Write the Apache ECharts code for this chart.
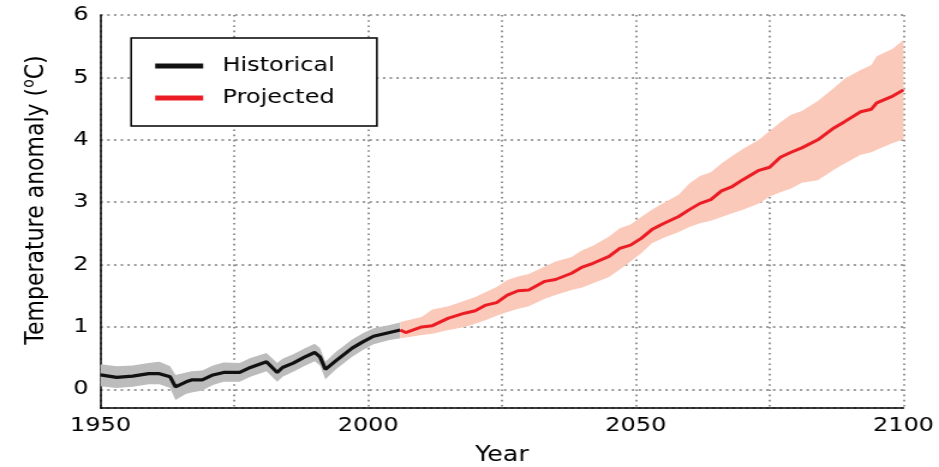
<!DOCTYPE html>
<html>
<head>
<meta charset="utf-8">
<script src="https://cdn.jsdelivr.net/npm/echarts@6/dist/echarts.min.js"></script>
<style>
html, body { margin: 0; padding: 0; background: #fff; overflow: hidden; }
#wrap { width: 939px; height: 467px; overflow: hidden; }
#chart { width: 782px; height: 467px; transform: scaleX(1.2008); transform-origin: 0 0; }
</style>
</head>
<body>
<div id="wrap"><div id="chart"></div></div>
<script>
// ---- data ----
const histYears = [1950, 1953, 1956, 1959, 1961, 1963, 1964, 1966, 1967, 1969, 1971, 1973, 1976, 1978, 1981, 1983, 1984, 1986, 1988, 1990, 1991, 1992, 1994, 1997, 1999, 2001, 2004, 2006];
const histMid  = [0.23, 0.19, 0.21, 0.25, 0.25, 0.20, 0.04, 0.12, 0.15, 0.15, 0.23, 0.27, 0.27, 0.35, 0.44, 0.27, 0.35, 0.42, 0.51, 0.59, 0.52, 0.32, 0.46, 0.66, 0.76, 0.85, 0.91, 0.95];
const histLow  = [0.05, 0.02, 0.04, 0.08, 0.08, 0.02, -0.17, -0.07, -0.05, -0.02, 0.07, 0.12, 0.12, 0.20, 0.29, 0.12, 0.20, 0.28, 0.37, 0.45, 0.38, 0.16, 0.32, 0.52, 0.63, 0.72, 0.79, 0.82];
const histHigh = [0.40, 0.37, 0.38, 0.42, 0.44, 0.37, 0.23, 0.27, 0.29, 0.30, 0.38, 0.43, 0.42, 0.50, 0.58, 0.42, 0.49, 0.56, 0.65, 0.73, 0.66, 0.44, 0.60, 0.80, 0.90, 0.98, 1.03, 1.07];

const projYears = [2006, 2007, 2010, 2012, 2015, 2018, 2020, 2022, 2024, 2026, 2028, 2030, 2033, 2035, 2038, 2040, 2042, 2045, 2047, 2049, 2051, 2053, 2055, 2058, 2060, 2062, 2064, 2066, 2068, 2070, 2073, 2075, 2077, 2079, 2081, 2084, 2087, 2089, 2092, 2094, 2095, 2098, 2100];
const projMid  = [0.95, 0.91, 1.00, 1.02, 1.14, 1.22, 1.26, 1.35, 1.39, 1.51, 1.58, 1.59, 1.73, 1.76, 1.86, 1.96, 2.02, 2.13, 2.26, 2.31, 2.42, 2.56, 2.65, 2.77, 2.88, 2.98, 3.04, 3.18, 3.25, 3.36, 3.51, 3.56, 3.72, 3.80, 3.87, 4.00, 4.19, 4.29, 4.45, 4.49, 4.59, 4.70, 4.80];
const projHigh = [1.08, 1.10, 1.16, 1.28, 1.33, 1.42, 1.48, 1.56, 1.64, 1.75, 1.81, 1.85, 1.97, 2.05, 2.12, 2.23, 2.30, 2.45, 2.58, 2.64, 2.76, 2.88, 2.98, 3.12, 3.30, 3.42, 3.48, 3.62, 3.74, 3.85, 4.00, 4.14, 4.28, 4.40, 4.46, 4.62, 4.83, 4.98, 5.12, 5.20, 5.34, 5.46, 5.60];
const projLow  = [0.82, 0.83, 0.87, 0.89, 0.95, 1.00, 1.05, 1.11, 1.18, 1.24, 1.29, 1.33, 1.45, 1.51, 1.59, 1.63, 1.70, 1.80, 1.92, 2.05, 2.18, 2.34, 2.42, 2.52, 2.60, 2.66, 2.70, 2.76, 2.82, 2.88, 2.98, 3.09, 3.16, 3.22, 3.31, 3.35, 3.52, 3.62, 3.76, 3.80, 3.84, 3.95, 4.01];

const xLabels = [1950, 2000, 2050, 2100];
const legendNames = ['Historical', 'Projected'];

// ---- build chart ----
const FONT = 'DejaVu Sans';
const pairs = (xs, ys) => xs.map((x, i) => [x, ys[i]]);
const bandData = (xs, lo, hi) => xs.map((x, i) => [x, lo[i], hi[i]]);

function makeBand(name, xs, lo, hi, color) {
  return {
    name: name,
    type: 'custom',
    silent: true,
    z: 1,
    data: bandData(xs, lo, hi),
    encode: { x: 0, y: [1, 2] },
    renderItem: function (params, api) {
      if (params.dataIndex !== 0) return null;
      const top = [], bot = [];
      for (let i = 0; i < xs.length; i++) {
        top.push(api.coord([xs[i], hi[i]]));
        bot.push(api.coord([xs[i], lo[i]]));
      }
      return {
        type: 'polygon',
        shape: { points: top.concat(bot.reverse()) },
        style: { fill: color, stroke: null }
      };
    }
  };
}

const chart = echarts.init(document.getElementById('chart'), null, { renderer: 'canvas' });
chart.setOption({
  animation: false,
  backgroundColor: '#ffffff',
  grid: { left: 83.7, right: 29.6, top: 15, bottom: 59, containLabel: false, outerBoundsMode: 'none' },
  legend: {
    data: legendNames,
    orient: 'vertical',
    left: 109.2,
    top: 38,
    padding: [17, 35, 17, 20],
    itemGap: 10,
    itemWidth: 40,
    itemHeight: 5,
    icon: 'rect',
    borderColor: '#000',
    borderWidth: 1.5,
    borderRadius: 0,
    backgroundColor: '#fff',
    textStyle: { fontFamily: FONT, fontSize: 20, color: '#000', lineHeight: 22, padding: [0, 0, 0, 11] }
  },
  xAxis: {
    type: 'value',
    min: 1950, max: 2100, interval: 25,
    name: 'Year', nameLocation: 'middle', nameGap: 37,
    nameTextStyle: { fontFamily: FONT, fontSize: 21, color: '#000' },
    axisLine: { onZero: false, lineStyle: { color: '#000', width: 1.5 } },
    axisTick: { show: false },
    axisLabel: {
      fontFamily: FONT, fontSize: 20, color: '#000', margin: 8,
      formatter: v => xLabels.includes(v) ? String(v) : ''
    },
    splitLine: { show: true, lineStyle: { color: '#7a7a7a', width: 1.6, type: [1.6, 3.6] } }
  },
  yAxis: {
    type: 'value',
    min: -0.3, max: 6, splitNumber: 6,
    name: '{a|Temperature anomaly (}{s|o}{a|C)}',
    nameLocation: 'middle', nameGap: 40,
    nameTextStyle: {
      color: '#000', padding: [0, 0, 0, 23],
      rich: {
        a: { fontFamily: FONT, fontSize: 22, color: '#000', lineHeight: 26, verticalAlign: 'middle' },
        s: { fontFamily: FONT, fontSize: 14, color: '#000', lineHeight: 26, verticalAlign: 'top' }
      }
    },
    axisLine: { show: true, lineStyle: { color: '#000', width: 1.5 } },
    axisTick: { show: false },
    axisLabel: {
      fontFamily: FONT, fontSize: 20, color: '#000', margin: 10, showMinLabel: false,
      formatter: v => Number.isInteger(v) ? String(v) : ''
    },
    splitLine: { show: true, lineStyle: { color: '#7a7a7a', width: 1.6, type: [2, 3.6] } }
  },
  series: [
    makeBand('histBand', histYears, histLow, histHigh, '#bcbcbc'),
    makeBand('projBand', projYears, projLow, projHigh, '#fbc9b9'),
    { name: 'Historical', type: 'line', data: pairs(histYears, histMid), symbol: 'none', itemStyle: { color: '#111' }, lineStyle: { color: '#111', width: 3.2 }, z: 3 },
    { name: 'Projected', type: 'line', data: pairs(projYears, projMid), symbol: 'none', itemStyle: { color: '#ec1c24' }, lineStyle: { color: '#ec1c24', width: 3 }, z: 3 }
  ]
});
</script>
</body>
</html>
